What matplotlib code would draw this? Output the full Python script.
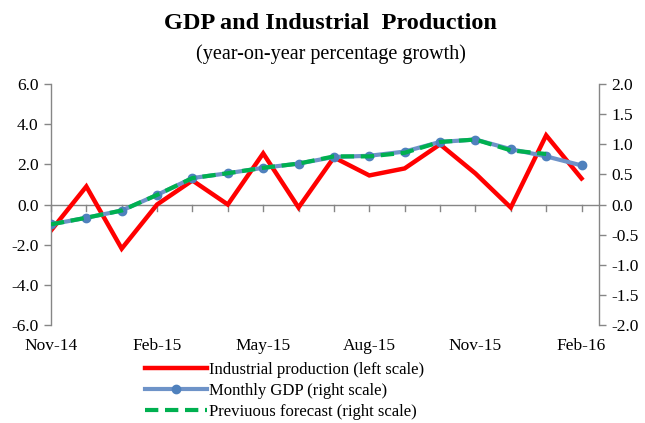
import numpy as np
import matplotlib
matplotlib.use("Agg")
import matplotlib.pyplot as plt
import matplotlib.transforms as mtransforms
from matplotlib.lines import Line2D

plt.rcParams['font.family'] = ['Liberation Serif', 'DejaVu Serif']

# data
months = ["Nov-14", "Dec-14", "Jan-15", "Feb-15", "Mar-15", "Apr-15", "May-15", "Jun-15",
          "Jul-15", "Aug-15", "Sep-15", "Oct-15", "Nov-15", "Dec-15", "Jan-16", "Feb-16"]
industrial = [-1.3, 0.9, -2.2, 0.0, 1.2, 0.0, 2.55, -0.15,
              2.35, 1.45, 1.8, 3.0, 1.55, -0.15, 3.45, 1.3]
gdp = [-0.33, -0.22, -0.1, 0.16, 0.44, 0.52, 0.61, 0.68,
       0.79, 0.81, 0.88, 1.04, 1.08, 0.92, 0.8, 0.65]
forecast = [-0.33, -0.22, -0.1, 0.16, 0.44, 0.52, 0.61, 0.68,
            0.8, 0.8, 0.86, 1.04, 1.08, 0.9, 0.84]
label_every = 3
left_ticks = np.arange(-6, 6.1, 2)
right_ticks = np.arange(-2, 2.01, 0.5)

GRAY = "#868686"
RED = "#FF0000"
BLUE = "#6E93C8"
BLUE_M = "#4F81BD"
GREEN = "#00B050"

fig = plt.figure(figsize=(6.45, 4.23), dpi=100)
ax = fig.add_axes([0.079, 0.232, 0.85, 0.569])
ax2 = ax.twinx()

x = np.arange(len(months))
ax.plot(x, industrial, color=RED, lw=3.2, solid_joinstyle='miter', zorder=2)
ax2.plot(x, gdp, color=BLUE, lw=3.0, marker='o', ms=6, mfc=BLUE_M, mec=BLUE_M, zorder=3)
ax2.plot(np.arange(len(forecast)), forecast, color=GREEN, lw=3.0, dashes=(3.2, 1.6), zorder=4)
ax2.set_zorder(ax.get_zorder() + 1)
ax2.patch.set_visible(False)

ax.set_xlim(0, len(months) - 0.5)
ax.set_ylim(-6, 6)
ax2.set_ylim(-2, 2)

ax.set_yticks(left_ticks)
ax.set_yticklabels([f"{v:.1f}" for v in left_ticks])
ax2.set_yticks(right_ticks)
ax2.set_yticklabels([f"{v:.1f}" for v in right_ticks])

for a in (ax, ax2):
    a.spines['top'].set_visible(False)
    a.spines['bottom'].set_visible(False)
    for s in ('left', 'right'):
        a.spines[s].set_color(GRAY)
        a.spines[s].set_linewidth(1.0)
    a.tick_params(axis='y', colors=GRAY, length=5, width=1.0, labelsize=12.5,
                  labelcolor='black', pad=4)
ax2.spines['left'].set_visible(False)
ax.spines['right'].set_visible(False)

# x axis line through zero with monthly ticks
ax.axhline(0, color=GRAY, lw=1.0, zorder=1)
ax.set_xticks([])
for xi in x:
    ax.plot([xi, xi], [0, -0.3], color=GRAY, lw=1.0, zorder=1, clip_on=False)
trans = mtransforms.blended_transform_factory(ax.transData, ax.transAxes)
for xi in x[::label_every]:
    ax.text(xi, -0.055, months[xi], transform=trans, ha='center', va='top', fontsize=12.5)

fig.text(0.512, 0.945, "GDP and Industrial  Production", ha='center', va='center',
         fontsize=17.5, fontweight='bold')
fig.text(0.513, 0.873, "(year-on-year percentage growth)", ha='center', va='center', fontsize=14.5)

handles = [Line2D([], [], color=RED, lw=3.2),
           Line2D([], [], color=BLUE, lw=3.0, marker='o', ms=6, mfc=BLUE_M, mec=BLUE_M),
           Line2D([], [], color=GREEN, lw=3.0, dashes=(3.2, 1.6))]
labels = ["Industrial production (left scale)", "Monthly GDP (right scale)",
          "Previuous forecast (right scale)"]
fig.legend(handles, labels, loc='upper left', bbox_to_anchor=(0.212, 0.165), frameon=False,
           fontsize=12.0, handlelength=3.7, handletextpad=0.15, labelspacing=0.3,
           borderpad=0.0)

fig.savefig("out.png", dpi=100, facecolor='white')
